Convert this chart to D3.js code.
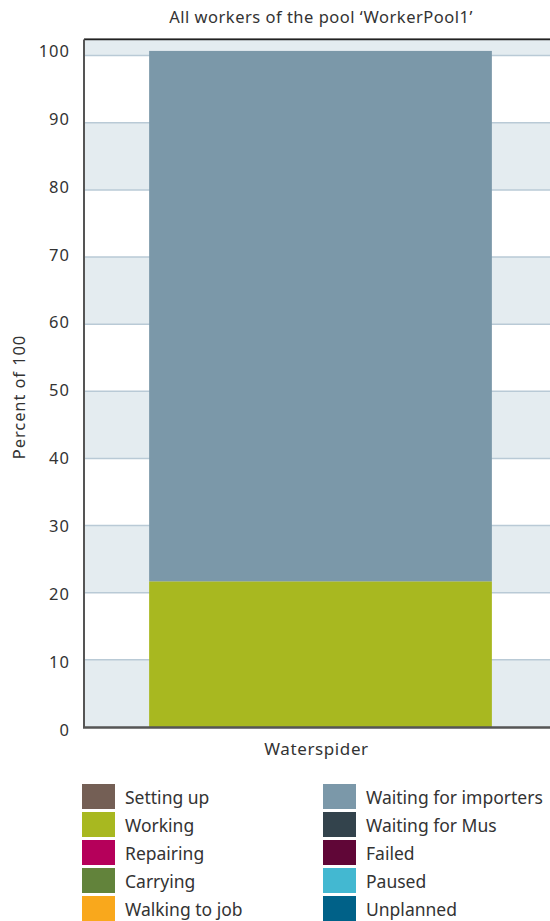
<!DOCTYPE html>
<html>
<head>
<meta charset="utf-8">
<script src="https://cdn.jsdelivr.net/npm/d3@7"></script>
<style>
  html, body { margin: 0; padding: 0; background: #fff; overflow: hidden; }
  svg { display: block; font-family: "Noto Sans", sans-serif; }
</style>
</head>
<body>
<svg id="chart" width="550" height="921"></svg>
<script>
// Worker categories on the x axis
const categories = ["Waterspider"];

// States shown in the legend, in legend order
const states = [
  "Setting up", "Working", "Repairing", "Carrying", "Walking to job",
  "Waiting for importers", "Waiting for Mus", "Failed", "Paused", "Unplanned"
];
const stateColors = [
  "#745f55", "#a8b820", "#b5005a", "#62833b", "#f9a81c",
  "#7b98a9", "#33434c", "#600637", "#43b8d1", "#006188"
];

// Percentage of time per state for each worker (one value per category)
const settingUp = [0];
const working = [21.7];
const repairing = [0];
const carrying = [0];
const walkingToJob = [0];
const waitingForImporters = [79.0];
const waitingForMus = [0];
const failed = [0];
const paused = [0];
const unplanned = [0];

const yTicks = [0, 10, 20, 30, 40, 50, 60, 70, 80, 90, 100];

const seriesValues = [settingUp, working, repairing, carrying, walkingToJob,
  waitingForImporters, waitingForMus, failed, paused, unplanned];

const rows = categories.map((c, i) => {
  const r = { category: c };
  states.forEach((s, k) => { r[s] = seriesValues[k][i]; });
  return r;
});

const svg = d3.select("#chart");
const textColor = "#333";

const plot = { left: 84, right: 557, top: 39.5, bottom: 727, edge: 552 };
const yMax = 102.4;

const x = d3.scaleBand()
  .domain(categories)
  .range([plot.left, plot.right])
  .paddingInner(0)
  .paddingOuter(0.19);

const y = d3.scaleLinear()
  .domain([0, yMax])
  .range([plot.bottom, plot.top]);

// Tick labels sit on a slightly wider spread than the grid lines
const yLabel = d3.scaleLinear()
  .domain([0, 100])
  .range([y(0) + 3, y(100) - 4.5]);

// Alternating background bands
const bandEdges = yTicks.concat([yMax]);
const bands = d3.range(bandEdges.length - 1).map(i => ({ lo: bandEdges[i], hi: bandEdges[i + 1], i }));
svg.append("g").selectAll("rect")
  .data(bands.filter(b => b.i % 2 === 0))
  .join("rect")
  .attr("x", plot.left)
  .attr("width", plot.edge - plot.left)
  .attr("y", d => y(d.hi))
  .attr("height", d => y(d.lo) - y(d.hi))
  .attr("fill", "#e4ecf0");

// Grid lines
svg.append("g").selectAll("line")
  .data(yTicks.filter(t => t > 0))
  .join("line")
  .attr("x1", plot.left)
  .attr("x2", plot.edge)
  .attr("y1", d => y(d))
  .attr("y2", d => y(d))
  .attr("stroke", "#b9cad6")
  .attr("stroke-width", 1.5);

// Stacked bars
const stack = d3.stack().keys(states);
const stacked = stack(rows);
svg.append("g").selectAll("g")
  .data(stacked)
  .join("g")
  .attr("fill", (d, i) => stateColors[i])
  .selectAll("rect")
  .data(d => d.filter(p => p[1] > p[0]))
  .join("rect")
  .attr("x", d => x(d.data.category))
  .attr("width", x.bandwidth())
  .attr("y", d => y(d[1]))
  .attr("height", d => y(d[0]) - y(d[1]));

// Top border of the plot area
svg.append("line")
  .attr("x1", plot.left).attr("x2", plot.edge)
  .attr("y1", plot.top - 1).attr("y2", plot.top - 1)
  .attr("stroke", "#999").attr("stroke-width", 1);
svg.append("line")
  .attr("x1", plot.left).attr("x2", plot.edge)
  .attr("y1", plot.top).attr("y2", plot.top)
  .attr("stroke", "#222").attr("stroke-width", 1.5);

// Y axis labels
const gy = svg.append("g");
gy.selectAll("text")
  .data(yTicks)
  .join("text")
  .attr("x", plot.left - 14)
  .attr("y", d => yLabel(d))
  .attr("dy", "0.35em")
  .attr("text-anchor", "end")
  .attr("fill", textColor)
  .style("font-size", "16.5px")
  .style("letter-spacing", "1px")
  .text(d => d3.format("d")(d));

svg.append("line")
  .attr("x1", plot.left).attr("x2", plot.left)
  .attr("y1", plot.top).attr("y2", plot.bottom + 1)
  .attr("stroke", "#555").attr("stroke-width", 2);

const xAxis = d3.axisBottom(x).tickSize(0).tickPadding(16);
const gx = svg.append("g")
  .attr("transform", `translate(0,${plot.bottom})`)
  .call(xAxis);
gx.select(".domain").remove();
gx.selectAll("text")
  .attr("fill", textColor)
  .attr("dx", "-4")
  .style("font-size", "17px")
  .style("letter-spacing", "0.6px")
  .style("font-family", "'Noto Sans', sans-serif");

svg.append("line")
  .attr("x1", plot.left - 1).attr("x2", plot.edge)
  .attr("y1", plot.bottom + 0.5).attr("y2", plot.bottom + 0.5)
  .attr("stroke", "#555").attr("stroke-width", 2.5);

// Title
svg.append("text")
  .attr("x", 321)
  .attr("y", 23)
  .attr("text-anchor", "middle")
  .attr("fill", textColor)
  .style("font-size", "16.5px")
  .style("letter-spacing", "0.5px")
  .text("All workers of the pool \u2018WorkerPool1\u2019");

// Y axis title
svg.append("text")
  .attr("transform", `translate(25,397) rotate(-90)`)
  .attr("text-anchor", "middle")
  .attr("fill", textColor)
  .style("font-size", "16.5px")
  .style("letter-spacing", "0.9px")
  .text("Percent of 100");

// Legend, two columns of five
const legend = svg.append("g");
const items = legend.selectAll("g")
  .data(states)
  .join("g")
  .attr("transform", (d, i) => {
    const col = Math.floor(i / 5), row = i % 5;
    return `translate(${col === 0 ? 82 : 323},${784 + row * 28})`;
  });
items.append("rect")
  .attr("width", 33)
  .attr("height", 25)
  .attr("fill", (d, i) => stateColors[i]);
items.append("text")
  .attr("x", 43)
  .attr("y", 20)
  .attr("fill", textColor)
  .style("font-size", "17.5px")
  .text(d => d);
</script>
</body>
</html>
